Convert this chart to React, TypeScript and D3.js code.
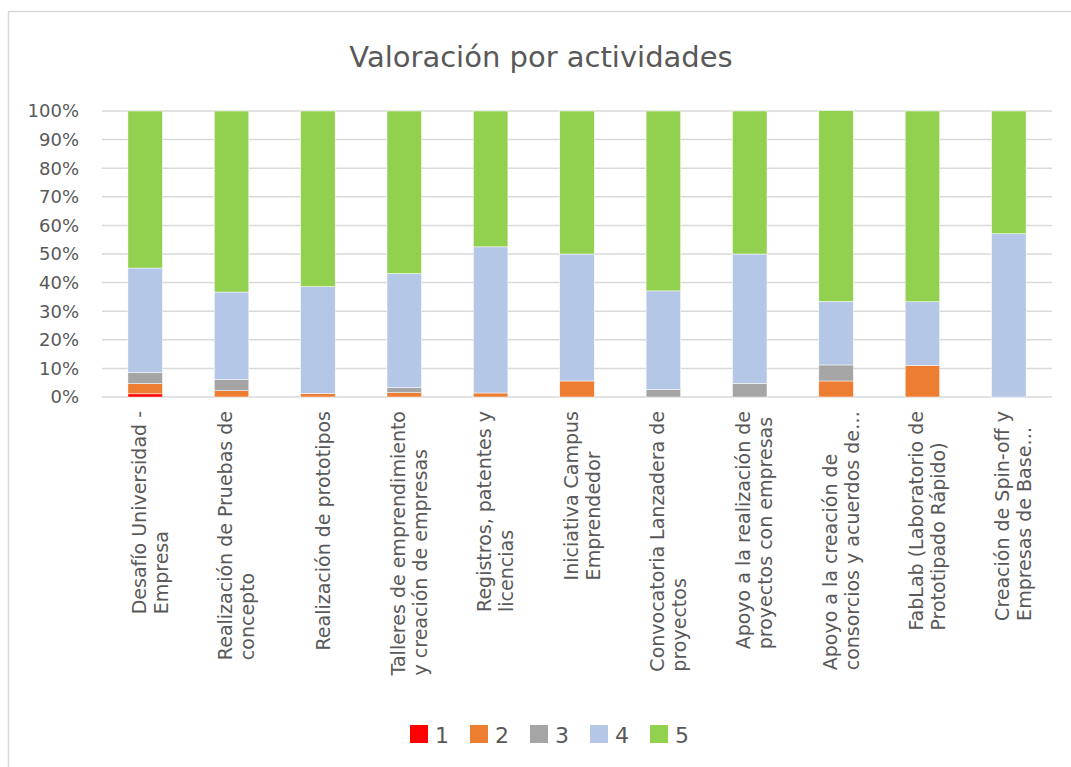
import React, { useEffect, useRef } from 'react';
import * as d3 from 'd3';

const categories = [
  ['Desafío Universidad -', 'Empresa'],
  ['Realización de Pruebas de', 'concepto'],
  ['Realización de prototipos'],
  ['Talleres de emprendimiento', 'y creación de empresas'],
  ['Registros, patentes y', 'licencias'],
  ['Iniciativa Campus', 'Emprendedor'],
  ['Convocatoria Lanzadera de', 'proyectos'],
  ['Apoyo a la realización de', 'proyectos con empresas'],
  ['Apoyo a la creación de', 'consorcios y acuerdos de…'],
  ['FabLab (Laboratorio de', 'Prototipado Rápido)'],
  ['Creación de Spin-off y', 'Empresas de Base…'],
];

const seriesNames = ['1', '2', '3', '4', '5'];
const seriesColors = ['#FF0000', '#ED7D31', '#A5A5A5', '#B4C7E7', '#92D050'];

// percentages per rating, one value per activity
const s1 = [1.1, 0, 0, 0, 0, 0, 0, 0, 0, 0, 0];
const s2 = [3.6, 2.2, 1.2, 1.5, 1.4, 5.6, 0, 0, 5.6, 11.1, 0];
const s3 = [3.8, 3.9, 0, 1.8, 0, 0, 2.7, 4.8, 5.6, 0, 0];
const s4 = [36.6, 30.6, 37.4, 39.9, 51.1, 44.4, 34.4, 45.2, 22.2, 22.2, 57.1];
const s5 = [54.9, 63.3, 61.4, 56.8, 47.5, 50.0, 62.9, 50.0, 66.7, 66.7, 42.9];

const yTicks = [0, 10, 20, 30, 40, 50, 60, 70, 80, 90, 100];

const W = 1071;
const H = 767;
const FONT = '"DejaVu Sans", sans-serif';
const TEXT = '#595959';

export default function App() {
  const svgRef = useRef<SVGSVGElement>(null);

  useEffect(() => {
    if (!svgRef.current) return;
    const svg = d3.select(svgRef.current);
    svg.selectAll('*').remove();

    const left = 102;
    const right = 1052;
    const top = 111;
    const bottom = 397;

    const rows = categories.map((c, i) => ({
      key: String(i),
      '1': s1[i], '2': s2[i], '3': s3[i], '4': s4[i], '5': s5[i],
    }));
    const stacked = d3.stack<any>().keys(seriesNames)(rows);

    const x = d3.scaleBand().domain(rows.map(r => r.key)).range([left, right]).paddingInner(0.6).paddingOuter(0.3);
    const y = d3.scaleLinear().domain([0, 100]).range([bottom, top]);

    // chart frame
    svg.append('rect')
      .attr('x', 8.5).attr('y', 11.5)
      .attr('width', W + 20).attr('height', H + 20)
      .attr('fill', '#fff').attr('stroke', '#D9D9D9').attr('stroke-width', 1.5);

    // title
    svg.append('text')
      .attr('x', 541).attr('y', 67)
      .attr('text-anchor', 'middle')
      .style('font-family', FONT).style('font-size', '29px').style('fill', TEXT)
      .text('Valoración por actividades');

    // gridlines + y labels
    const grid = svg.append('g');
    yTicks.forEach(t => {
      grid.append('line')
        .attr('x1', left).attr('x2', right)
        .attr('y1', y(t)).attr('y2', y(t))
        .attr('stroke', '#D9D9D9').attr('stroke-width', 1.5);
      grid.append('text')
        .attr('x', 79).attr('y', y(t)).attr('dy', '0.36em')
        .attr('text-anchor', 'end')
        .style('font-family', FONT).style('font-size', '18px').style('fill', TEXT)
        .text(`${t}%`);
    });

    // bars
    stacked.forEach((layer, si) => {
      svg.append('g')
        .selectAll('rect')
        .data(layer)
        .enter()
        .append('rect')
        .attr('x', d => x(d.data.key)!)
        .attr('width', x.bandwidth())
        .attr('y', d => y(d[1]))
        .attr('height', d => Math.max(0, y(d[0]) - y(d[1])))
        .attr('fill', seriesColors[si])
        .attr('stroke', '#fff')
        .attr('stroke-width', d => (d[1] - d[0] > 0 ? 0.5 : 0));
    });

    // category labels, rotated, lines aligned at the bottom
    categories.forEach((lines, i) => {
      const cx = x(String(i))! + x.bandwidth() / 2;
      const g = svg.append('g').attr('transform', `translate(${cx + 5}, 411) rotate(-90)`);
      const texts = lines.map((line, li) =>
        g.append('text')
          .attr('y', (li - (lines.length - 1) / 2) * 22)
          .attr('dy', '0.35em')
          .style('font-family', FONT).style('font-size', '19px').style('fill', TEXT)
          .text(line)
      );
      const maxLen = d3.max(texts, t => (t.node() as SVGTextElement).getComputedTextLength()) || 0;
      texts.forEach(t => t.attr('x', -maxLen));
    });

    // legend
    const legend = svg.append('g');
    seriesNames.forEach((name, i) => {
      const lx = 410 + i * 60;
      legend.append('rect')
        .attr('x', lx).attr('y', 725).attr('width', 18).attr('height', 18)
        .attr('fill', seriesColors[i]);
      legend.append('text')
        .attr('x', lx + 25).attr('y', 743)
        .style('font-family', FONT).style('font-size', '22px').style('fill', TEXT)
        .text(name);
    });
  }, []);

  return (
    <svg
      ref={svgRef}
      width={W}
      height={H}
      style={{ position: 'absolute', left: 0, top: 0, background: '#fff' }}
    />
  );
}
